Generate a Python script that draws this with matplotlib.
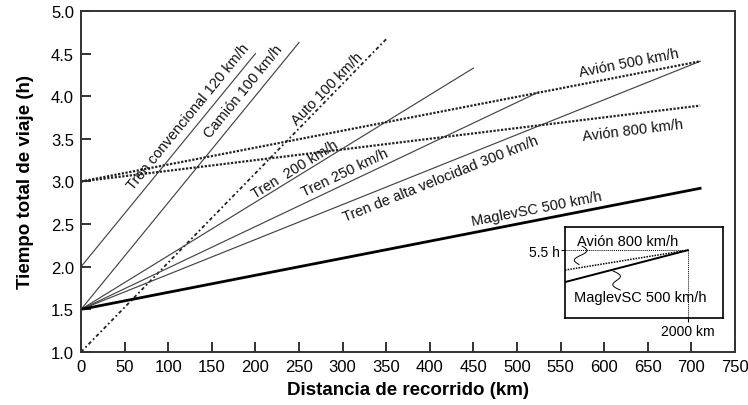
import numpy as np
import matplotlib
matplotlib.use("Agg")
import matplotlib.pyplot as plt

plt.rcParams['font.family'] = ['Liberation Sans', 'DejaVu Sans']

# travel time lines: start time at 0 km, end point (km, h)
names = ['Tren convencional 120 km/h', 'Camión 100 km/h', 'Auto 100 km/h',
         'Tren  200 km/h', 'Tren 250 km/h', 'Tren de alta velocidad 300 km/h',
         'Avión 500 km/h', 'Avión 800 km/h', 'MaglevSC 500 km/h']
t_start = [2.0, 1.5, 1.0, 1.5, 1.5, 1.5, 3.0, 3.0, 1.5]
x_end = [200, 250, 350, 450, 525, 710, 710, 710, 710]
t_end = [4.5, 4.63, 4.67, 4.33, 4.05, 4.41, 4.41, 3.89, 2.92]

# label centres (km, h)
label_x = [123, 186, 282, 245, 303, 412, 628, 633, 523]
label_y = [3.76, 4.06, 4.09, 3.15, 3.11, 3.04, 4.40, 3.61, 2.69]

# inset: 2000 km comparison
inset_x = [0, 2000]
inset_avion = [3.0, 5.5]
inset_maglev = [1.5, 5.5]

styles = {
    'thin': dict(color='#444444', lw=0.85, ls='-'),
    'auto': dict(color='#222222', lw=1.3, ls=(0, (2, 1.5, 1, 1.5))),
    'avion': dict(color='#222222', lw=1.6, ls=(0, (1, 0.7))),
    'maglev': dict(color='black', lw=2.0, ls='-'),
}
kind = ['thin', 'thin', 'auto', 'thin', 'thin', 'thin', 'avion', 'avion', 'maglev']

fig = plt.figure(figsize=(7.48, 4.06), dpi=100)
ax = fig.add_axes([0.1083, 0.1305, 0.8743, 0.84])

for i, name in enumerate(names):
    ax.plot([0, x_end[i]], [t_start[i], t_end[i]], **styles[kind[i]])
    slope = (t_end[i] - t_start[i]) / x_end[i]
    ang = np.degrees(np.arctan(slope))
    ax.text(label_x[i], label_y[i], name, fontsize=10.5, ha='center', va='center',
            rotation=ang, rotation_mode='anchor', transform_rotates_text=True,
            color='#111111')

ax.set_xlim(0, 750)
ax.set_ylim(1.0, 5.0)
ax.set_xticks(np.arange(0, 751, 50))
ax.set_yticks(np.arange(1.0, 5.01, 0.5))
ax.set_yticklabels([f'{v:.1f}' for v in np.arange(1.0, 5.01, 0.5)])
ax.tick_params(direction='in', length=7, width=1.4, labelsize=12, pad=5,
               colors='#333333', labelcolor='black')
for s in ax.spines.values():
    s.set_linewidth(1.4)
    s.set_color('#333333')

ax.set_xlabel('Distancia de recorrido (km)', fontsize=13.5, fontweight='bold', labelpad=5)
ax.set_ylabel('Tiempo total de viaje (h)', fontsize=13.5, fontweight='bold', labelpad=12)

# inset
ins = fig.add_axes([0.7553, 0.2143, 0.2112, 0.2241])
ins.set_xlim(0, 2570)
ins.set_ylim(-3.0, 8.4)
ins.plot([0, 2000], [5.5, 5.5], color='black', lw=0.7, ls=(0, (1, 1)))
ins.plot([2000, 2000], [-3.0, 5.5], color='black', lw=0.7, ls=(0, (1, 1)))
ins.plot(inset_x, inset_avion, color='black', lw=1.1, ls=(0, (1, 0.8)))
ins.plot(inset_x, inset_maglev, color='black', lw=1.4)
ins.set_xticks([2000])
ins.set_xticklabels(['2000 km'])
ins.set_yticks([5.5])
ins.set_yticklabels(['5.5 h'])
ins.tick_params(length=3, width=0.8, labelsize=10, pad=1)
for s in ins.spines.values():
    s.set_linewidth(1.2)

ins.text(190, 6.7, 'Avión 800 km/h', fontsize=10.5, va='center', ha='left')
ins.text(150, -0.4, 'MaglevSC 500 km/h', fontsize=10.5, va='center', ha='left')

# wavy leader lines
t = np.linspace(0, 1, 40)
wx = 280 - 50 * t + 90 * np.sin(2 * np.pi * t)
wy = 6.0 - 2.3 * t
ins.plot(wx, wy, color='black', lw=0.7)
wx2 = 780 + 120 * t + 90 * np.sin(2 * np.pi * t)
wy2 = 2.9 - 2.4 * t
ins.plot(wx2, wy2, color='black', lw=0.7)

fig.savefig('out.png', dpi=100)
